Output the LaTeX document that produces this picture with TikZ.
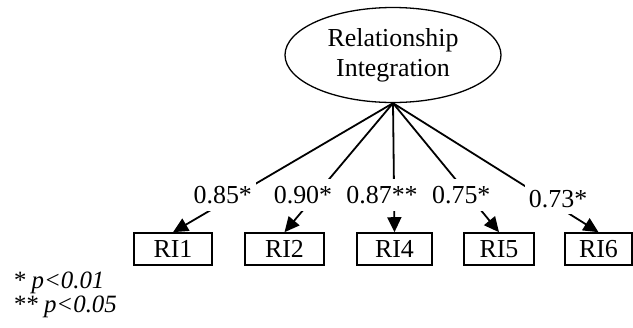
\documentclass[tikz,border=0pt]{standalone}
\usepackage{fontspec}
\setmainfont{Liberation Serif}
\usetikzlibrary{shapes.geometric, arrows.meta}

\begin{document}
\begin{tikzpicture}[x=1bp, y=-1bp, line width=1.8bp,
    >={Triangle[length=15bp, width=14bp]},
    every node/.style={font=\fontsize{26}{30}\selectfont},
    item/.style={draw, line width=1.6bp, minimum height=32bp, inner sep=0pt},
    coef/.style={fill=white, inner xsep=4bp, inner ysep=7bp}]
    \useasboundingbox (0,0) rectangle (633,327);
    \node (RI) [draw, ellipse, align=center, line width=1.3bp,
        minimum width=216bp, minimum height=95bp] at (393,55) {Relationship\\Integration};
    \node (RI1) [item, minimum width=78bp] at (173,249) {RI1};
    \node (RI2) [item, minimum width=79bp] at (284.5,249) {RI2};
    \node (RI4) [item, minimum width=75bp] at (394.5,249) {RI4};
    \node (RI5) [item, minimum width=70bp] at (499,249) {RI5};
    \node (RI6) [item, minimum width=67bp] at (598.5,249) {RI6};
    \draw[->] (RI.south) to node[coef, pos=.71, xshift=-14bp] {0.85*} (RI1.north);
    \draw[->] (RI.south) to node[coef, pos=.71, xshift=-13bp] {0.90*} (RI2.north);
    \draw[->] (RI.south) to node[coef, pos=.71, xshift=-12bp] {0.87**} (RI4.north);
    \draw[->] (RI.south) to node[coef, pos=.71, xshift=-7bp] {0.75*} (RI5.north);
    \draw[->] (RI.south) to node[coef, pos=.74, xshift=13bp] {0.73*} (RI6.north);
    % significance levels
    \node (sig) [anchor=north west, align=left, inner sep=3bp,
        font=\itshape\fontsize{25}{24}\selectfont] at (9,268) {*~p<0.01\\**~p<0.05};
\end{tikzpicture}
\end{document}
